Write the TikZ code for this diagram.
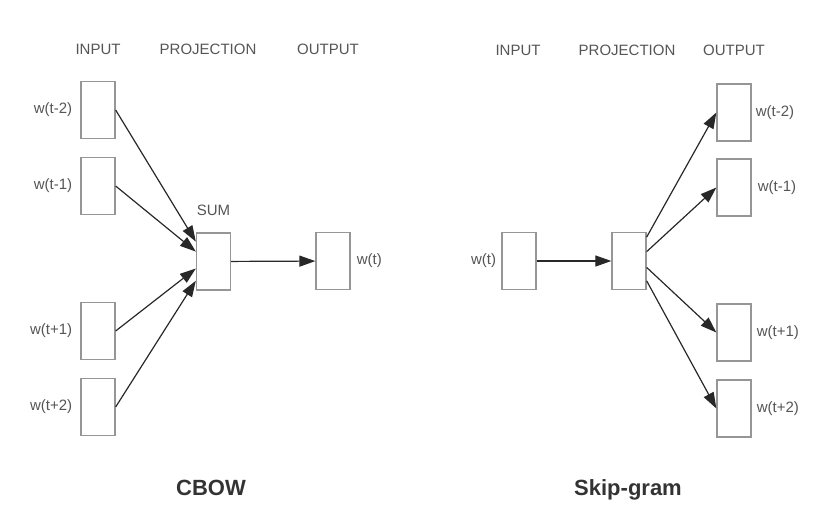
\documentclass[tikz,border=0pt]{standalone}
\usepackage{fontspec}
\setmainfont{Liberation Sans}
\usetikzlibrary{arrows.meta, positioning, calc}
\definecolor{boxgray}{RGB}{150,150,150}
\definecolor{txtgray}{RGB}{85,85,85}
\definecolor{arrgray}{RGB}{40,40,40}

\begin{document}
\begin{tikzpicture}[
  x=1pt, y=-1pt,
  vec/.style={draw=boxgray, line width=1.3pt, rectangle, minimum width=34pt,
              minimum height=57pt, inner sep=0pt},
  lab/.style={font=\fontsize{15}{15}\selectfont, text=txtgray, inner sep=0pt},
  head/.style={lab, anchor=base},
  title/.style={font=\fontsize{22}{22}\selectfont\bfseries, text=black!80,
                inner sep=0pt, anchor=base},
  arr/.style={-{Triangle[length=16pt,width=11pt]}, draw=arrgray, line width=1.2pt},
  node distance=6pt,
]
  \useasboundingbox (0,0) rectangle (827,516);

  % CBOW
  \node[head] (cin) at (98,55) {INPUT};
  \node[head] (cproj) at (208,55) {PROJECTION};
  \node[head] (cout) at (328,55) {OUTPUT};

  \node[vec] (in1) at (98,110) {};
  \node[vec] (in2) at (98,186) {};
  \node[vec] (in3) at (98,331) {};
  \node[vec] (in4) at (98,407) {};
  \node[lab, left=8pt of in1] {w(t-2)};
  \node[lab, left=8pt of in2] {w(t-1)};
  \node[lab, left=8pt of in3] {w(t+1)};
  \node[lab, left=8pt of in4] {w(t+2)};

  \node[vec] (sum) at (213.5,261.5) {};
  \node[lab, above=17pt of sum] {SUM};
  \node[vec] (out) at (333,261) {};
  \node[lab, right=6pt of out] {w(t)};

  \foreach \i/\f in {1/0.16, 2/0.33, 3/0.62, 4/0.83}
    \draw[arr] (in\i.east) -- ($(sum.north west)!\f!(sum.south west)$);
  \draw[arr] (sum) -- (out);

  \node[title] (cbow) at (211,495) {CBOW};

  % Skip-gram
  \node[head] (sin) at (518,55.5) {INPUT};
  \node[head] (sproj) at (627,55.5) {PROJECTION};
  \node[head] (sout) at (734,55.5) {OUTPUT};

  \node[vec] (win) at (519,261) {};
  \node[lab, left=5pt of win] {w(t)};
  \node[vec] (proj) at (629,261) {};

  \node[vec] (o1) at (734,112.5) {};
  \node[vec] (o2) at (734,187.5) {};
  \node[vec] (o3) at (734,332.5) {};
  \node[vec] (o4) at (734,408.5) {};
  \node[lab, right=4pt of o1] {w(t-2)};
  \node[lab, right=6pt of o2] {w(t-1)};
  \node[lab, right=5pt of o3] {w(t+1)};
  \node[lab, right=5pt of o4] {w(t+2)};

  \draw[arr] (win) -- (proj);
  \foreach \i/\f in {1/0.09, 2/0.34, 3/0.61, 4/0.84}
    \draw[arr] ($(proj.north east)!\f!(proj.south east)$) -- (o\i.west);

  \node[title] (skip) at (628,495) {Skip-gram};
\end{tikzpicture}
\end{document}
